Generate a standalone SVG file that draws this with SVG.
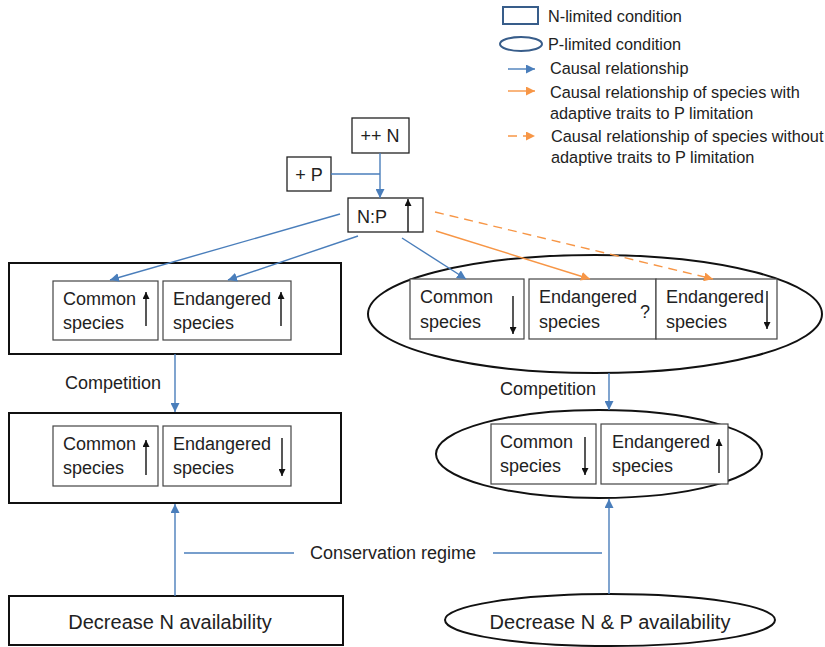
<svg xmlns="http://www.w3.org/2000/svg" width="825" height="647" viewBox="0 0 825 647">
<defs>
<style>
text{font-family:"Liberation Sans",Arial,sans-serif;fill:#222}
.t18{font-size:18px}
.t16{font-size:16.3px}
.t20{font-size:20px}
.outer{fill:#fff;stroke:#111;stroke-width:2}
.inner{fill:#fff;stroke:#444;stroke-width:1.2}
.box{fill:#fff;stroke:#222;stroke-width:1.3}
.blue{stroke:#4A7EBB;stroke-width:1.4;fill:none}
.orange{stroke:#F79646;stroke-width:1.4;fill:none}
.dash{stroke-dasharray:9 6}
.blk{stroke:#111;stroke-width:1.4;fill:none}
</style>
<marker id="ab" viewBox="0 0 10 10" refX="10" refY="5" markerWidth="9" markerHeight="9" markerUnits="userSpaceOnUse" orient="auto"><path d="M0,0 L10,5 L0,10 z" fill="#4A7EBB"/></marker>
<marker id="ao" viewBox="0 0 10 10" refX="10" refY="5" markerWidth="9" markerHeight="9" markerUnits="userSpaceOnUse" orient="auto"><path d="M0,0 L10,5 L0,10 z" fill="#F79646"/></marker>
<marker id="ak" viewBox="0 0 10 10" refX="10" refY="5" markerWidth="9" markerHeight="7" markerUnits="userSpaceOnUse" orient="auto"><path d="M0,0 L10,5 L0,10 z" fill="#111"/></marker>
</defs>
<rect width="825" height="647" fill="#fff"/>

<g id="legend">
<rect x="503" y="7" width="35" height="17" fill="#fff" stroke="#385D8A" stroke-width="2"/>
<text class="t16" x="548" y="22">N-limited condition</text>
<ellipse cx="521" cy="44" rx="21" ry="7" fill="#fff" stroke="#385D8A" stroke-width="2"/>
<text class="t16" x="548" y="50">P-limited condition</text>
<line class="blue" x1="508" y1="69" x2="535" y2="69" marker-end="url(#ab)"/>
<text class="t16" x="550" y="74">Causal relationship</text>
<line class="orange" x1="508" y1="91" x2="535" y2="91" marker-end="url(#ao)"/>
<text class="t16" x="550" y="98">Causal relationship of species with</text>
<text class="t16" x="550" y="119">adaptive traits to P limitation</text>
<line class="orange dash" x1="508" y1="136" x2="535" y2="136" marker-end="url(#ao)"/>
<text class="t16" x="551" y="142">Causal relationship of species without</text>
<text class="t16" x="551" y="163">adaptive traits to P limitation</text>
</g>

<g id="n_plus">
<rect class="box" x="352" y="118" width="57" height="35"/>
<text class="t18" x="380" y="142" text-anchor="middle">++ N</text>
</g>
<g id="p_plus">
<rect class="box" x="287" y="157" width="44" height="34"/>
<text class="t18" x="309" y="181" text-anchor="middle">+ P</text>
</g>
<g id="np">
<rect class="box" x="348" y="198" width="75" height="34"/>
<text class="t18" x="357" y="223">N:P</text>
<line class="blk" x1="408" y1="232" x2="408" y2="199" marker-end="url(#ak)"/>
</g>

<g id="n_limited_top">
<rect class="outer" x="9" y="263" width="332" height="91"/>
<rect class="inner" x="53" y="281" width="105" height="59"/>
<text class="t18" x="63" y="305">Common</text>
<text class="t18" x="63" y="329">species</text>
<line class="blk" x1="146" y1="326" x2="146" y2="292" marker-end="url(#ak)"/>
<rect class="inner" x="163" y="281" width="128" height="59"/>
<text class="t18" x="173" y="305">Endangered</text>
<text class="t18" x="173" y="329">species</text>
<line class="blk" x1="281" y1="326" x2="281" y2="292" marker-end="url(#ak)"/>
</g>

<text class="t18" x="65" y="389">Competition</text>

<g id="n_limited_bottom">
<rect class="outer" x="9" y="413" width="332" height="90"/>
<rect class="inner" x="53" y="426" width="105" height="60"/>
<text class="t18" x="63" y="450">Common</text>
<text class="t18" x="63" y="474">species</text>
<line class="blk" x1="146" y1="475" x2="146" y2="440" marker-end="url(#ak)"/>
<rect class="inner" x="163" y="426" width="128" height="60"/>
<text class="t18" x="173" y="450">Endangered</text>
<text class="t18" x="173" y="474">species</text>
<line class="blk" x1="282" y1="438" x2="282" y2="476" marker-end="url(#ak)"/>
</g>

<g id="p_limited_top">
<ellipse cx="595" cy="314" rx="227" ry="59" fill="#fff" stroke="#111" stroke-width="2"/>
<rect class="inner" x="410" y="279" width="114" height="60"/>
<text class="t18" x="420" y="303">Common</text>
<text class="t18" x="420" y="328">species</text>
<line class="blk" x1="513" y1="296" x2="513" y2="334" marker-end="url(#ak)"/>
<rect class="inner" x="529" y="279" width="127" height="60"/>
<text class="t18" x="539" y="303">Endangered</text>
<text class="t18" x="539" y="328">species</text>
<text class="t18" x="640" y="318">?</text>
<rect class="inner" x="656" y="279" width="121" height="60"/>
<text class="t18" x="666" y="303">Endangered</text>
<text class="t18" x="666" y="328">species</text>
<line class="blk" x1="767" y1="291" x2="767" y2="329" marker-end="url(#ak)"/>
</g>

<text class="t18" x="500" y="395">Competition</text>

<g id="p_limited_bottom">
<ellipse cx="599" cy="454" rx="163" ry="44" fill="#fff" stroke="#111" stroke-width="2"/>
<rect class="inner" x="491" y="424" width="105" height="60"/>
<text class="t18" x="500" y="448">Common</text>
<text class="t18" x="500" y="472">species</text>
<line class="blk" x1="585" y1="437" x2="585" y2="475" marker-end="url(#ak)"/>
<rect class="inner" x="601" y="424" width="127" height="60"/>
<text class="t18" x="612" y="448">Endangered</text>
<text class="t18" x="612" y="472">species</text>
<line class="blk" x1="719" y1="473" x2="719" y2="439" marker-end="url(#ak)"/>
</g>

<text class="t18" x="310" y="559">Conservation regime</text>

<g id="decrease_n">
<rect class="outer" x="9" y="596" width="334" height="49"/>
<text class="t20" x="170" y="629" text-anchor="middle">Decrease N availability</text>
</g>
<g id="decrease_np">
<ellipse cx="610" cy="620" rx="165" ry="26" fill="#fff" stroke="#111" stroke-width="2"/>
<text class="t20" x="610" y="629" text-anchor="middle">Decrease N &amp; P availability</text>
</g>

<g id="connectors">
<line class="blue" x1="331" y1="174" x2="380" y2="174"/>
<line class="blue" x1="380" y1="153" x2="380" y2="198" marker-end="url(#ab)"/>
<line class="blue" x1="340" y1="214" x2="110" y2="280" marker-end="url(#ab)"/>
<line class="blue" x1="358" y1="236" x2="228" y2="280" marker-end="url(#ab)"/>
<line class="blue" x1="402" y1="238" x2="466" y2="279" marker-end="url(#ab)"/>
<line class="orange" x1="436" y1="231" x2="590" y2="279" marker-end="url(#ao)"/>
<line class="orange dash" x1="435" y1="212" x2="713" y2="279" marker-end="url(#ao)"/>
<line class="blue" x1="175" y1="354" x2="175" y2="412" marker-end="url(#ab)"/>
<line class="blue" x1="609" y1="373" x2="609" y2="410" marker-end="url(#ab)"/>
<line class="blue" x1="175" y1="596" x2="175" y2="504" marker-end="url(#ab)"/>
<line class="blue" x1="609" y1="594" x2="609" y2="499" marker-end="url(#ab)"/>
<line class="blue" x1="184" y1="553" x2="294" y2="553"/>
<line class="blue" x1="493" y1="553" x2="602" y2="553"/>
</g>
</svg>
